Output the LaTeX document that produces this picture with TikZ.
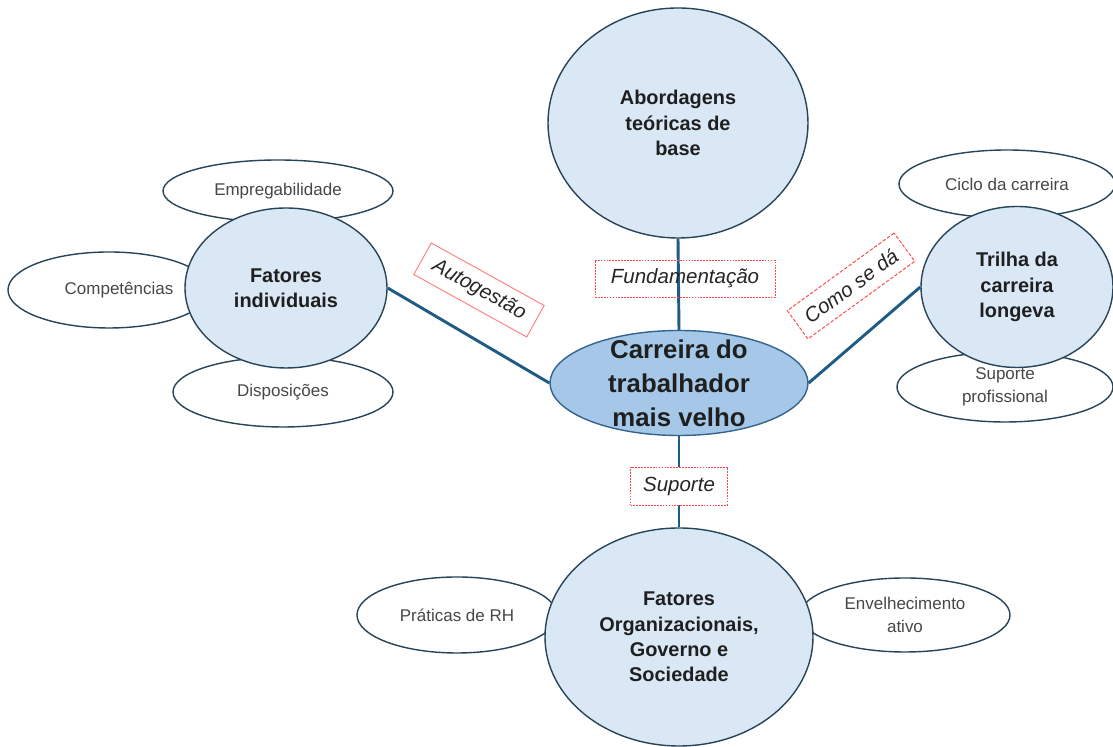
\documentclass[tikz,border=0pt]{standalone}
\usepackage{fontspec}
\setmainfont{Liberation Sans}
\usetikzlibrary{shapes.geometric}

\definecolor{circfill}{RGB}{218,232,245}
\definecolor{midfill}{RGB}{166,200,232}
\definecolor{edgeblue}{RGB}{40,68,88}
\definecolor{midedge}{RGB}{52,100,140}
\definecolor{connblue}{RGB}{30,92,132}
\definecolor{tagred}{RGB}{255,70,70}

\begin{document}
\begin{tikzpicture}[
  bigcirc/.style={ellipse, draw=edgeblue, line width=1.2pt, fill=circfill,
    inner sep=0pt, align=center, text=black!88,
    font=\bfseries\fontsize{17}{21.5}\selectfont},
  smallell/.style={ellipse, draw=edgeblue, line width=1.2pt, fill=white,
    inner sep=0pt, align=center, text=black!72,
    font=\fontsize{14.5}{20}\selectfont},
  linkbox/.style={draw=tagred, line width=0.8pt, inner sep=0pt,
    font=\itshape\fontsize{17.5}{21}\selectfont, text=black!85},
  conn/.style={draw=connblue, line width=2.5pt}
]
  \useasboundingbox (0,0) rectangle (33.39,22.41);

  % small ellipses, behind the circles
  \node[smallell, minimum width=6.9cm, minimum height=1.86cm] (empreg) at (8.34,16.68) {Empregabilidade};
  \node[smallell, minimum width=6.06cm, minimum height=2.28cm] (compet) at (3.27,13.71) {\hspace*{0.6cm}Competências};
  \node[smallell, minimum width=6.6cm, minimum height=2.1cm] (dispos) at (8.49,10.65) {Disposições};
  \node[smallell, minimum width=6.48cm, minimum height=2.04cm] (ciclo) at (30.21,16.89) {Ciclo da carreira};
  \node[smallell, minimum width=6.48cm, minimum height=2.1cm] (suporte) at (30.15,10.80) {Suporte\\profissional};
  \node[smallell, minimum width=6.0cm, minimum height=2.28cm] (praticas) at (13.71,3.96) {Práticas de RH};
  \node[smallell, minimum width=6.3cm, minimum height=2.22cm] (envelh) at (27.15,3.96) {Envelhecimento\\ativo};

  % big circles
  \node[bigcirc, minimum width=7.8cm, minimum height=6.9cm] (abord) at (20.34,18.72) {Abordagens\\teóricas de\\base};
  \node[bigcirc, minimum width=6.06cm, minimum height=4.8cm] (fatind) at (8.58,13.77) {Fatores\\individuais};
  \node[bigcirc, minimum width=5.76cm, minimum height=4.83cm] (trilha) at (30.51,13.80) {Trilha da\\carreira\\longeva};
  \node[bigcirc, minimum width=8.04cm, minimum height=6.54cm] (fatorg) at (20.37,3.30) {Fatores\\Organizacionais,\\Governo e\\Sociedade};
  \node[bigcirc, draw=midedge, fill=midfill, inner xsep=0pt, inner ysep=-9pt,
    minimum width=7.74cm, minimum height=3.15cm,
    font=\bfseries\fontsize{22}{29}\selectfont] (carreira) at (20.37,10.92) {Carreira do\\trabalhador\\mais velho};

  % connectors
  \draw[conn] (abord.south) -- (carreira.north);
  \draw[conn] (fatind.east) -- (carreira.west);
  \draw[conn] (carreira.east) -- (trilha.west);
  \draw[conn] (carreira.south) -- (fatorg.north);

  % labels on the connectors
  \node[linkbox, draw=tagred!70, minimum width=3.87cm, minimum height=1.08cm, rotate=-29] (autog) at (14.37,13.71) {Autogestão};
  \node[linkbox, dash pattern=on 1.5pt off 1pt, minimum width=5.4cm, minimum height=1.11cm] (fundam) at (20.55,14.05) {Fundamentação};
  \node[linkbox, dash pattern=on 3pt off 1.5pt, minimum width=3.96cm, minimum height=1.05cm, rotate=36] (comose) at (25.53,13.83) {Como se dá};
  \node[linkbox, fill=white, dash pattern=on 1.5pt off 1pt, minimum width=2.91cm, minimum height=1.14cm] (suportel) at (20.37,7.83) {Suporte};
\end{tikzpicture}
\end{document}
